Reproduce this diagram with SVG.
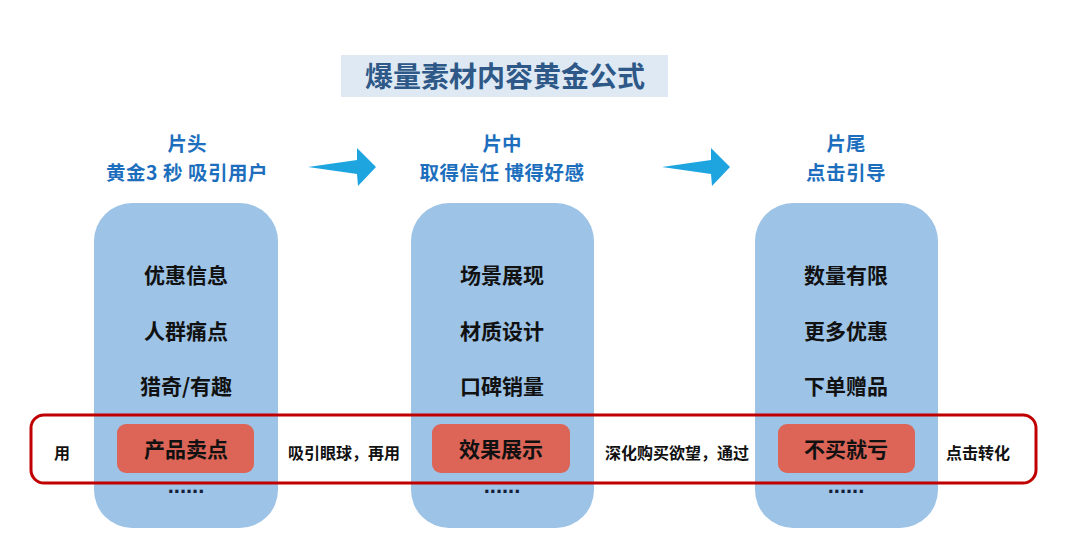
<svg xmlns="http://www.w3.org/2000/svg" width="1080" height="556" viewBox="0 0 1080 556">
<style>
text{font-family:"Noto Sans CJK SC","Noto Sans CJK JP",sans-serif;font-weight:bold;text-anchor:middle}
.col{fill:#9dc3e6}
.hd{fill:#1d6fbe;font-size:19.5px}
.it{fill:#111;font-size:21px}
.pill{fill:#dc6557}
.pt{fill:#111;font-size:21px}
.side{fill:#111;font-size:16px}
.dots{fill:#14203a;font-size:22px;font-family:"Liberation Sans",sans-serif}
.arrow{fill:#1ea5e0}
</style>
<rect width="1080" height="556" fill="#ffffff"/>
<g id="title">
<rect x="341" y="55" width="327" height="42" fill="#dee9f4"/>
<text x="505" y="87" style="font-size:28px;fill:#2d5887">爆量素材内容黄金公式</text>
</g>
<g id="col1">
<rect class="col" x="94" y="203" width="184" height="325" rx="38"/>
<text class="hd" x="187" y="151">片头</text>
<text class="hd" x="187" y="180" style="letter-spacing:0.5px">黄金3 秒 吸引用户</text>
<text class="it" x="186" y="283">优惠信息</text>
<text class="it" x="186" y="339">人群痛点</text>
<text class="it" x="186" y="394">猎奇/有趣</text>
</g>
<g id="col2">
<rect class="col" x="411" y="203" width="183" height="325" rx="38"/>
<text class="hd" x="502" y="151">片中</text>
<text class="hd" x="502" y="180" style="letter-spacing:0.5px">取得信任 博得好感</text>
<text class="it" x="502" y="283">场景展现</text>
<text class="it" x="502" y="339">材质设计</text>
<text class="it" x="502" y="394">口碑销量</text>
</g>
<g id="col3">
<rect class="col" x="755" y="203" width="183" height="325" rx="38"/>
<text class="hd" x="846" y="151">片尾</text>
<text class="hd" x="846" y="180" style="letter-spacing:0.5px">点击引导</text>
<text class="it" x="846" y="283">数量有限</text>
<text class="it" x="846" y="339">更多优惠</text>
<text class="it" x="846" y="394">下单赠品</text>
</g>
<g id="connectors">
<polygon class="arrow" points="308,167 357,160 357,148 376,167 358,186 357,174"/>
<polygon class="arrow" points="662,167 711,160 711,148 730,167 712,186 711,174"/>
</g>
<g id="highlight">
<rect x="31" y="415" width="1005" height="68" rx="13" fill="none" stroke="#c00000" stroke-width="3"/>
<text class="side" x="62" y="459">用</text>
<rect class="pill" x="117" y="424" width="137" height="49" rx="9"/>
<text class="pt" x="186" y="457">产品卖点</text>
<text class="side" x="344" y="459">吸引眼球，再用</text>
<rect class="pill" x="432" y="424" width="138" height="49" rx="9"/>
<text class="pt" x="501" y="457">效果展示</text>
<text class="side" x="677" y="459">深化购买欲望，通过</text>
<rect class="pill" x="778" y="424" width="137" height="49" rx="9"/>
<text class="pt" x="846" y="457">不买就亏</text>
<text class="side" x="978" y="459">点击转化</text>
</g>
<g id="dots">
<text class="dots" x="186" y="493">......</text>
<text class="dots" x="502" y="493">......</text>
<text class="dots" x="846" y="493">......</text>
</g>
</svg>
